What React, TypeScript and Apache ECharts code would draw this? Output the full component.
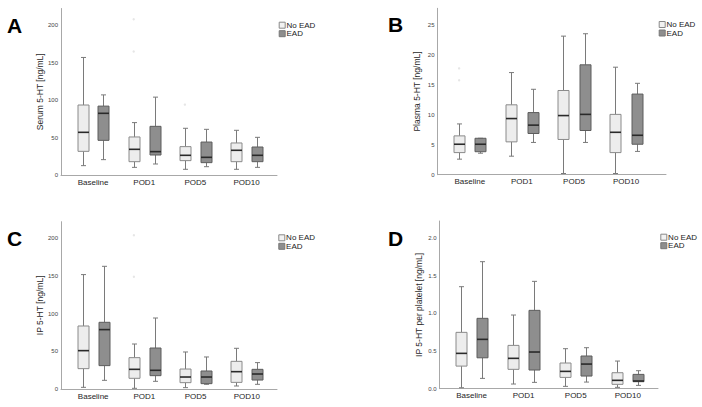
import React, { useEffect, useRef } from 'react';
import * as echarts from 'echarts';

const categories = ['Baseline', 'POD1', 'POD5', 'POD10'];
const groupNames = ['No EAD', 'EAD'];

// each box: [min, Q1, median, Q3, max]
const serumNoEAD = [[12.5, 31.6, 57, 93.5, 157], [10.2, 17.8, 34.3, 50.8, 70], [7.6, 19.2, 26.3, 37.9, 62.4], [7.6, 17.8, 33, 42.8, 59.7]];
const serumEAD = [[20.5, 46.3, 82.4, 92, 107], [14.7, 26.7, 31.2, 65, 104], [11.1, 16.5, 23.6, 44, 61], [10.2, 17.8, 26.3, 37.4, 50.3]];
const serumOutNoEAD = [[1, 208], [1, 165], [2, 94]];

const plasmaNoEAD = [[2.6, 3.7, 5.1, 6.5, 8.5], [3.1, 5.5, 9.4, 11.7, 17.1], [0.2, 5.9, 9.9, 14.1, 23.2], [0.2, 3.7, 7.1, 10.1, 18.0]];
const plasmaEAD = [[3.6, 3.85, 5.1, 6.1, 6.1], [5.4, 6.9, 8.3, 10.4, 14.3], [5.4, 7.4, 10.1, 18.4, 23.6], [3.9, 5.1, 6.6, 13.5, 15.3]];
const plasmaOutNoEAD = [[0, 17.8], [0, 15.8]];

const ipNoEAD = [[2.2, 27, 50.9, 83.6, 151.8], [0.9, 14.2, 26.1, 41.6, 59.7], [1.8, 8.4, 15.9, 26.5, 49.1], [4, 8.8, 23, 36.7, 54]];
const ipEAD = [[11.5, 31, 78.8, 88.5, 162.8], [10.2, 17.7, 24.8, 54.4, 94.2], [6.2, 7.1, 15.9, 23.9, 42.5], [6.2, 11.9, 19.9, 26.1, 35]];
const ipOutNoEAD = [[1, 204], [1, 149]];

const plateletNoEAD = [[0.013, 0.30, 0.469, 0.748, 1.354], [0.062, 0.257, 0.403, 0.575, 0.978], [0.031, 0.15, 0.23, 0.341, 0.531], [0.018, 0.058, 0.111, 0.212, 0.367]];
const plateletEAD = [[0.137, 0.41, 0.655, 0.934, 1.686], [0.084, 0.248, 0.487, 1.04, 1.425], [0.088, 0.168, 0.327, 0.434, 0.544], [0.044, 0.093, 0.102, 0.19, 0.239]];
const plateletOutNoEAD: number[][] = [];

const FONT = "'Liberation Sans', Arial, Helvetica, sans-serif";
const NO_FILL = '#ededed';
const NO_STROKE = '#8a8a8a';
const EAD_FILL = '#8e8e8e';
const EAD_STROKE = '#5c5c5c';
const WHISKER = '#7a7a7a';

const panels = [
  { letter: 'A', title: 'Serum 5-HT [ng/mL]', no: serumNoEAD, ead: serumEAD, out: serumOutNoEAD, max: 222.4, interval: 50, dec: 0,
    axL: 61, axW: 216, top: 8.5, h: 166.5, catL: 67.4, catW: 204.8, lx: 7, ly: 26.5, legX: 278.7, legY: 21.7 },
  { letter: 'B', title: 'Plasma 5-HT [ng/mL]', no: plasmaNoEAD, ead: plasmaEAD, out: plasmaOutNoEAD, max: 27.86, interval: 5, dec: 0,
    axL: 437.5, axW: 228.5, top: 8.3, h: 166.4, catL: 443.75, catW: 208.4, lx: 388, ly: 26, legX: 658.7, legY: 21 },
  { letter: 'C', title: 'IP 5-HT [ng/mL]', no: ipNoEAD, ead: ipEAD, out: ipOutNoEAD, max: 222, interval: 50, dec: 0,
    axL: 61, axW: 216, top: 221.7, h: 167.3, catL: 67.6, catW: 204.8, lx: 7, ly: 239.5, legX: 278.3, legY: 234.3 },
  { letter: 'D', title: 'IP 5-HT per platelet [ng/mL]', no: plateletNoEAD, ead: plateletEAD, out: plateletOutNoEAD, max: 2.226, interval: 0.5, dec: 1,
    axL: 439.5, axW: 218.5, top: 221, h: 167.7, catL: 445.5, catW: 208.3, lx: 388, ly: 239.5, legX: 660.3, legY: 233.7 },
];

function boxRenderer(side: number, fill: string, stroke: string) {
  return (params: any, api: any) => {
    const ci = api.value(0);
    const band = api.size([1, 0])[0];
    const cx = Math.round(api.coord([ci, 0])[0] + side * band * 0.205) + 0.5;
    const y = (k: number) => api.coord([ci, api.value(k)])[1];
    const yMin = y(1), yQ1 = y(2), yMed = y(3), yQ3 = y(4), yMax = y(5);
    const hw = 5.5, cw = 2.5;
    const ls = { stroke: WHISKER, lineWidth: 1 };
    return {
      type: 'group',
      children: [
        { type: 'line', shape: { x1: cx, y1: yMax, x2: cx, y2: yQ3 }, style: ls },
        { type: 'line', shape: { x1: cx, y1: yQ1, x2: cx, y2: yMin }, style: ls },
        { type: 'line', shape: { x1: cx - cw, y1: yMax, x2: cx + cw, y2: yMax }, style: ls },
        { type: 'line', shape: { x1: cx - cw, y1: yMin, x2: cx + cw, y2: yMin }, style: ls },
        { type: 'rect', shape: { x: cx - hw, y: yQ3, width: hw * 2, height: Math.max(yQ1 - yQ3, 0.5) }, style: { fill, stroke, lineWidth: 1 } },
        { type: 'line', shape: { x1: cx - hw, y1: yMed, x2: cx + hw, y2: yMed }, style: { stroke: '#2a2a2a', lineWidth: 1.6 } },
      ],
    };
  };
}

function outlierRenderer(side: number) {
  return (params: any, api: any) => {
    const ci = api.value(0);
    const band = api.size([1, 0])[0];
    const p = api.coord([ci, api.value(1)]);
    return { type: 'circle', shape: { cx: p[0] + side * band * 0.205, cy: p[1], r: 1.2 }, style: { fill: '#e6e6e6' } };
  };
}

function buildOption() {
  const grid: any[] = [];
  const xAxis: any[] = [];
  const yAxis: any[] = [];
  const series: any[] = [];
  const graphic: any[] = [];

  panels.forEach((p, pi) => {
    const gA = pi * 2, gC = pi * 2 + 1;
    grid.push({ left: p.axL, top: p.top, width: p.axW, height: p.h, containLabel: false });
    grid.push({ left: p.catL, top: p.top, width: p.catW, height: p.h, containLabel: false });
    const fmt = (v: number) => {
      const r = v / p.interval;
      if (Math.abs(r - Math.round(r)) > 1e-6) return '';
      return v.toFixed(p.dec);
    };
    xAxis.push({
      type: 'category', gridIndex: gA, data: categories,
      axisLine: { show: true, lineStyle: { color: '#a8a8a8', width: 1 } },
      axisTick: { show: false }, axisLabel: { show: false }, splitLine: { show: false },
    });
    xAxis.push({
      type: 'category', gridIndex: gC, data: categories,
      axisLine: { show: false }, axisTick: { show: false }, splitLine: { show: false },
      axisLabel: { show: true, fontSize: 8, color: '#1e1e1e', fontFamily: FONT, margin: 3 },
    });
    yAxis.push({
      type: 'value', gridIndex: gA, min: 0, max: p.max, interval: p.interval,
      axisLine: { show: true, lineStyle: { color: '#a8a8a8', width: 1 } },
      axisTick: { show: false }, splitLine: { show: false },
      axisLabel: { show: true, fontSize: 6, color: '#444', fontFamily: FONT, margin: 3, formatter: fmt },
      name: p.title, nameLocation: 'middle', nameGap: 16,
      nameTextStyle: { fontSize: 8.5, color: '#2a2a2a', fontFamily: FONT },
    });
    yAxis.push({
      type: 'value', gridIndex: gC, min: 0, max: p.max, interval: p.interval, show: false,
      splitLine: { show: false },
    });

    const xi = gC, yi = gC;
    series.push({
      type: 'custom', name: groupNames[0], xAxisIndex: xi, yAxisIndex: yi,
      renderItem: boxRenderer(-1, NO_FILL, NO_STROKE),
      encode: { x: 0, y: [1, 2, 3, 4, 5] },
      data: p.no.map((d, i) => [i, ...d]),
    });
    series.push({
      type: 'custom', name: groupNames[1], xAxisIndex: xi, yAxisIndex: yi,
      renderItem: boxRenderer(1, EAD_FILL, EAD_STROKE),
      encode: { x: 0, y: [1, 2, 3, 4, 5] },
      data: p.ead.map((d, i) => [i, ...d]),
    });
    if (p.out.length) {
      series.push({
        type: 'custom', name: 'outliers', xAxisIndex: xi, yAxisIndex: yi,
        renderItem: outlierRenderer(-1),
        encode: { x: 0, y: 1 },
        data: p.out,
      });
    }

    graphic.push({
      type: 'text', left: p.lx, top: p.ly - 12,
      style: { text: p.letter, fontSize: 21, fontWeight: 'bold', fill: '#000', fontFamily: FONT },
    });
    graphic.push({
      type: 'rect', shape: { x: p.legX + 0.5, y: p.legY + 0.5, width: 6, height: 6 },
      style: { fill: '#f2f2f2', stroke: '#888', lineWidth: 1 },
    });
    graphic.push({
      type: 'rect', shape: { x: p.legX + 0.5, y: p.legY + 9, width: 6, height: 6 },
      style: { fill: EAD_FILL, stroke: '#777', lineWidth: 1 },
    });
    graphic.push({
      type: 'text', x: p.legX + 7.8, y: p.legY + 3.6,
      style: { text: groupNames[0], fontSize: 8, fill: '#222', fontFamily: FONT, verticalAlign: 'middle' },
    });
    graphic.push({
      type: 'text', x: p.legX + 7.8, y: p.legY + 12.1,
      style: { text: groupNames[1], fontSize: 8, fill: '#222', fontFamily: FONT, verticalAlign: 'middle' },
    });
  });

  return {
    animation: false,
    backgroundColor: '#ffffff',
    textStyle: { fontFamily: FONT },
    grid, xAxis, yAxis, series, graphic,
  };
}

export default function App() {
  const ref = useRef<HTMLDivElement>(null);
  useEffect(() => {
    if (!ref.current) return;
    const chart = echarts.init(ref.current, undefined, { renderer: 'svg' });
    chart.setOption(buildOption() as any);
    return () => chart.dispose();
  }, []);
  return (
    <div
      ref={ref}
      style={{ position: 'fixed', left: 0, top: 0, width: 702, height: 407, background: '#fff' }}
    />
  );
}
